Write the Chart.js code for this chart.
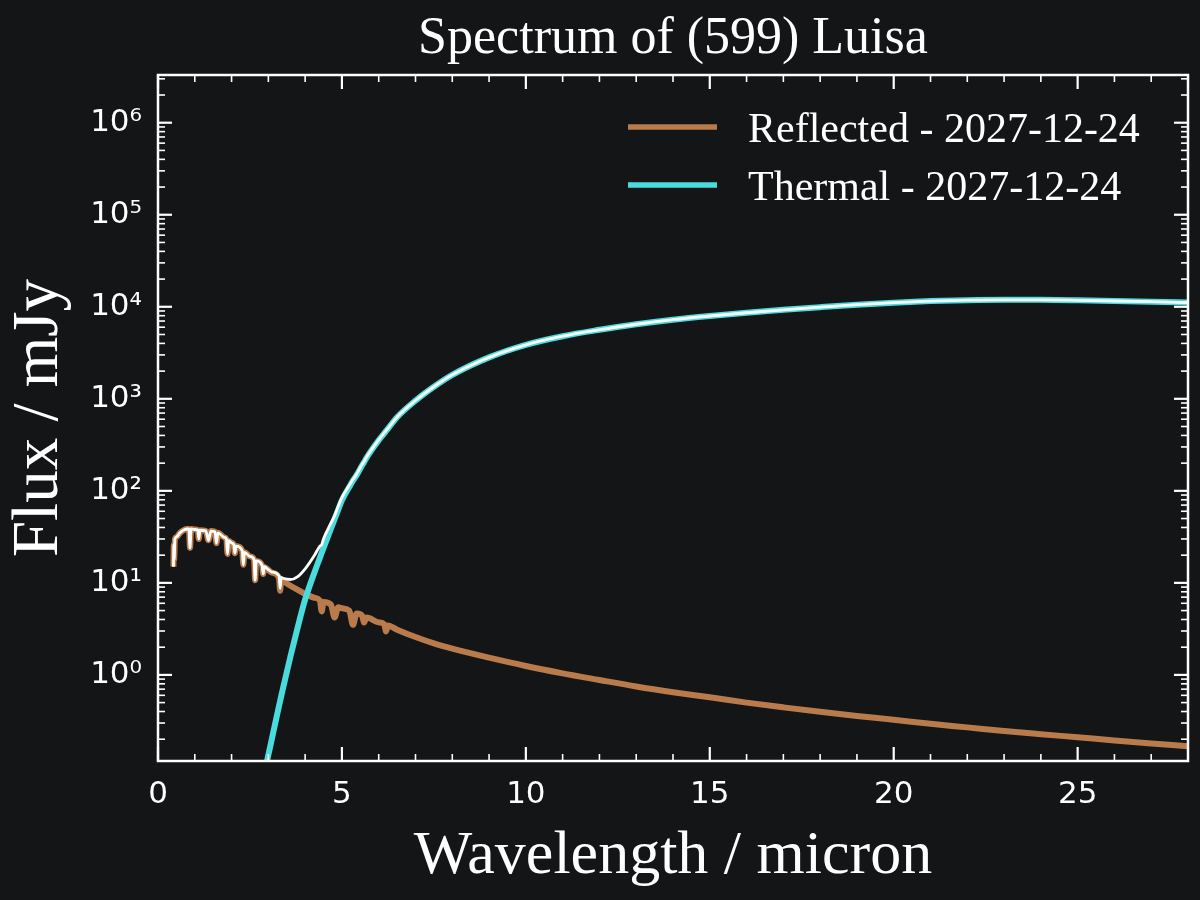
<!DOCTYPE html>
<html>
<head>
<meta charset="utf-8">
<title>Spectrum of (599) Luisa</title>
<script src="https://cdn.jsdelivr.net/npm/chart.js@4.4.1/dist/chart.umd.min.js"></script>
<style>
  html, body { margin: 0; padding: 0; background: #131517; }
  #spectrum { display: block; }
</style>
</head>
<body>
<canvas id="spectrum" width="1200" height="900"></canvas>
<script>
// wavelength grid (micron), shared by both flux components
const wavelength = [
  0.42, 0.43, 0.44, 0.46, 0.50, 0.60, 0.70, 0.80, 0.84, 0.87, 0.90, 1.00, 1.08, 1.11, 1.14,
  1.30, 1.37, 1.44, 1.55, 1.59, 1.63, 1.80, 1.86, 1.89, 1.92, 2.00, 2.06, 2.09, 2.12,
  2.29, 2.32, 2.35, 2.50, 2.61, 2.64, 2.67, 2.83, 2.86, 2.89, 3.00, 3.10, 3.29, 3.32, 3.35,
  3.40, 3.60, 3.80, 4.00, 4.25, 4.40, 4.45, 4.50, 4.70, 4.80, 4.90, 5.00, 5.20, 5.30, 5.40,
  5.55, 5.60, 5.67, 6.00, 6.15, 6.20, 6.25, 6.50, 7.00, 7.50, 8.00, 9, 10, 11, 12, 13, 14,
  15, 16, 17, 18, 19, 20, 21, 22, 23, 24, 25, 26, 27, 28
];

// reflected sunlight, mJy
const reflectedFlux = [
  15, 26, 18, 30, 31.5, 35, 37.5, 38.5, 38.5, 24, 38.5, 38, 37.5, 30, 37.3,
  36.8, 29, 36.5, 35.8, 27, 35, 31.2, 29.9, 20.6, 28.7, 27.2, 26.1, 21, 25.1,
  22.4, 15.7, 21.5, 19.4, 18.0, 10.7, 17.3, 15.5, 12.5, 14.9, 13.8, 12.9, 11.4, 8.2, 10.9,
  10.5, 9.3, 8.4, 7.6, 6.9, 6.45, 4.9, 6.2, 5.8, 4.2, 5.45, 5.3, 5.0, 3.5, 4.65,
  4.4, 3.7, 4.2, 3.72, 3.55, 2.97, 3.45, 3.1, 2.58, 2.2, 1.93, 1.54, 1.25, 1.04, 0.881, 0.749, 0.649,
  0.571, 0.5, 0.444, 0.397, 0.358, 0.325, 0.294, 0.269, 0.246, 0.227, 0.21, 0.194, 0.18, 0.168
];

// thermal emission, mJy (negligible below ~2.9 micron)
const thermalFlux = [
  null, null, null, null, null, null, null, null, null, null, null, null, null, null, null,
  null, null, null, null, null, null, null, null, null, null, null, null, null, null,
  null, null, null, null, null, null, null, null, null, 0.085, 0.135, 0.206, 0.46, 0.52, 0.59,
  0.72, 1.58, 3.31, 6.6, 12.9, 18.7, 21.2, 24, 38.7, 49.2, 62.5, 79, 110, 129, 148,
  190, 204, 229, 355, 422, 447, 473, 631, 955, 1350, 1820, 2820, 3860, 4790, 5620, 6460, 7240,
  7940, 8610, 9270, 9910, 10540, 11090, 11530, 11800, 11910, 11890, 11750, 11560, 11350, 11120
];

const xTickValues = [0, 5, 10, 15, 20, 25];
const yTickValues = [1, 10, 100, 1000, 10000, 100000, 1000000];
const yTickLabels = ['10⁰', '10¹', '10²', '10³', '10⁴', '10⁵', '10⁶'];
const seriesLabels = ['Reflected - 2027-12-24', 'Thermal - 2027-12-24'];

const REFLECTED_COLOR = '#b97b4b';
const THERMAL_COLOR = '#4adcdc';
const SERIF = '"Liberation Serif", "Times New Roman", serif';
const SANS = '"DejaVu Sans", sans-serif';

const toPoints = (ys) => wavelength.map((x, i) => ({ x: x, y: ys[i] }));
const totalFlux = reflectedFlux.map((r, i) => r + (thermalFlux[i] ?? 0));

// ticks, frame, titles and legend in the matplotlib look
const decorations = {
  id: 'decorations',
  afterDraw(chart) {
    const { ctx, chartArea: a, scales: { x, y } } = chart;
    ctx.save();
    ctx.strokeStyle = '#ffffff';
    ctx.fillStyle = '#ffffff';

    const line = (x1, y1, x2, y2, w) => {
      ctx.lineWidth = w;
      ctx.beginPath();
      ctx.moveTo(x1, y1);
      ctx.lineTo(x2, y2);
      ctx.stroke();
    };

    // x ticks, bottom and top, pointing inwards
    for (let v = 0; v <= 28; v++) {
      const px = x.getPixelForValue(v);
      const len = v % 5 === 0 ? 14 : 7;
      const w = v % 5 === 0 ? 2.2 : 1.6;
      line(px, a.bottom, px, a.bottom - len, w);
      line(px, a.top, px, a.top + len, w);
    }

    // y ticks, left and right
    for (let e = -1; e <= 6; e++) {
      for (let m = 1; m <= 9; m++) {
        const v = m * Math.pow(10, e);
        if (v < y.min || v > y.max) continue;
        const py = y.getPixelForValue(v);
        const len = m === 1 ? 14 : 7;
        const w = m === 1 ? 2.2 : 1.6;
        line(a.left, py, a.left + len, py, w);
        line(a.right, py, a.right - len, py, w);
      }
    }

    ctx.lineWidth = 2.5;
    ctx.strokeRect(a.left, a.top, a.right - a.left, a.bottom - a.top);

    // title
    ctx.textAlign = 'center';
    ctx.textBaseline = 'alphabetic';
    ctx.font = '52px ' + SERIF;
    ctx.fillText('Spectrum of (599) Luisa', (a.left + a.right) / 2, 53);

    // axis titles
    ctx.font = '62px ' + SERIF;
    ctx.fillText('Wavelength / micron', (a.left + a.right) / 2, 873);
    ctx.save();
    ctx.translate(57, (a.top + a.bottom) / 2);
    ctx.rotate(-Math.PI / 2);
    ctx.font = '65px ' + SERIF;
    ctx.fillText('Flux / mJy', 0, 0);
    ctx.restore();

    // legend
    const colors = [REFLECTED_COLOR, THERMAL_COLOR];
    ctx.textAlign = 'left';
    ctx.font = '42px ' + SERIF;
    seriesLabels.forEach((label, i) => {
      const ly = 127 + i * 58;
      ctx.strokeStyle = colors[i];
      line(628, ly, 717, ly, 5.5);
      ctx.fillText(label, 748, ly + 15);
    });

    ctx.restore();
  }
};

new Chart(document.getElementById('spectrum'), {
  type: 'line',
  data: {
    datasets: [
      {
        label: seriesLabels[0],
        data: toPoints(reflectedFlux),
        borderColor: REFLECTED_COLOR,
        borderWidth: 6,
        pointRadius: 0,
        cubicInterpolationMode: 'monotone',
        order: 3
      },
      {
        label: seriesLabels[1],
        data: toPoints(thermalFlux),
        borderColor: THERMAL_COLOR,
        borderWidth: 6,
        pointRadius: 0,
        cubicInterpolationMode: 'monotone',
        order: 2
      },
      {
        label: 'Total',
        data: toPoints(totalFlux),
        borderColor: '#ffffff',
        borderWidth: 2.8,
        pointRadius: 0,
        cubicInterpolationMode: 'monotone',
        order: 1
      }
    ]
  },
  options: {
    responsive: false,
    animation: false,
    layout: { padding: { top: 75, right: 12, bottom: 0, left: 0 } },
    plugins: {
      legend: { display: false },
      title: { display: false },
      tooltip: { enabled: false }
    },
    scales: {
      x: {
        type: 'linear',
        min: 0,
        max: 28,
        grid: { display: false, drawTicks: false },
        border: { display: false },
        afterBuildTicks: (scale) => { scale.ticks = xTickValues.map(v => ({ value: v })); },
        afterFit: (scale) => { scale.height = 139; },
        ticks: {
          color: '#ffffff',
          font: { family: SANS, size: 31 },
          padding: 15,
          maxRotation: 0,
          autoSkip: false,
          callback: (v) => String(v)
        }
      },
      y: {
        type: 'logarithmic',
        min: 0.116,
        max: 3.3e6,
        grid: { display: false, drawTicks: false },
        border: { display: false },
        afterBuildTicks: (scale) => { scale.ticks = yTickValues.map(v => ({ value: v })); },
        afterFit: (scale) => { scale.width = 158; },
        ticks: {
          color: '#ffffff',
          font: { family: SANS, size: 31 },
          padding: 16,
          autoSkip: false,
          callback: (v, i) => yTickLabels[i]
        }
      }
    }
  },
  plugins: [decorations]
});
</script>
</body>
</html>
